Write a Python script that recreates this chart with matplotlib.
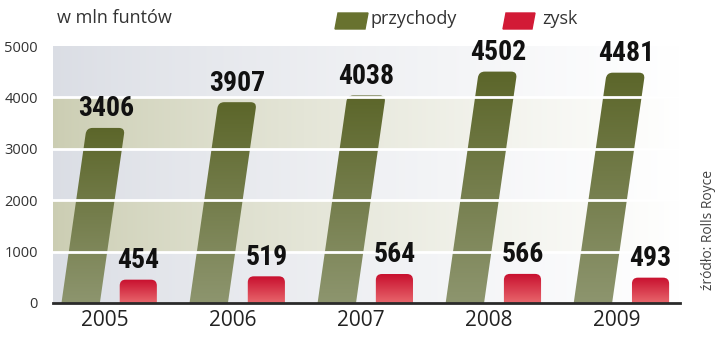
import numpy as np
import matplotlib
matplotlib.use('Agg')
import matplotlib.pyplot as plt
from matplotlib.path import Path
from matplotlib.patches import PathPatch
from matplotlib.colors import to_rgb

years = ['2005', '2006', '2007', '2008', '2009']
przychody = [3406, 3907, 4038, 4502, 4481]
zysk = [454, 519, 564, 566, 493]
yticks = [0, 1000, 2000, 3000, 4000, 5000]

W, H = 720, 355
fig = plt.figure(figsize=(W / 100, H / 100), dpi=100)
fig.patch.set_facecolor('white')
ax = fig.add_axes([53 / W, (H - 303) / H, 627 / W, 257 / H])
xmin, xmax = -0.406, 4.49
ax.set_xlim(xmin, xmax)
ax.set_ylim(0, 5000)

# background bands fading to white on the right
gray = np.array(to_rgb('#dadde4'))
beige = np.array(to_rgb('#cbcdb2'))
band_cols = [gray, beige, gray, beige, gray]
ncol = 627
t = np.linspace(0, 1, ncol) ** 0.8
bg = np.zeros((5, ncol, 3))
for i, c in enumerate(band_cols):
    bg[i] = c[None, :] * (1 - t[:, None]) + 1.0 * t[:, None]
ax.imshow(bg, extent=[xmin, xmax, 0, 5000], origin='lower', aspect='auto',
          interpolation='nearest', zorder=0)

px_x = 128.0          # pixels per category
px_y = 257.0 / 5000   # pixels per value unit
r_px = 6.0
rx = r_px / px_x
ry = r_px / px_y

num_font = dict(fontsize=20, fontweight='bold', fontstretch='condensed',
                family=['Roboto Condensed', 'DejaVu Sans'], color='#111111', zorder=5)


def bar_path(xc, hw, v, slant_px):
    # slant_px: horizontal pixels per vertical pixel
    s = slant_px * (v * px_y) / px_x
    k = slant_px * (ry * px_y) / px_x
    bl = (xc - hw, 0)
    br = (xc + hw, 0)
    tr = (xc + hw + s, v)
    tl = (xc - hw + s, v)
    verts = [bl, br, (tr[0] - k, v - ry), tr, (tr[0] - rx, v),
             (tl[0] + rx, v), tl, (tl[0] - k, v - ry), bl]
    codes = [Path.MOVETO, Path.LINETO, Path.LINETO, Path.CURVE3, Path.CURVE3,
             Path.LINETO, Path.CURVE3, Path.CURVE3, Path.CLOSEPOLY]
    return Path(verts, codes), s


def grad_bar(xc, hw, v, slant_px, top, bottom):
    path, s = bar_path(xc, hw, v, slant_px)
    patch = PathPatch(path, facecolor='none', edgecolor='none', zorder=2)
    ax.add_patch(patch)
    ct, cb = np.array(to_rgb(top)), np.array(to_rgb(bottom))
    g = np.linspace(0, 1, 100)[:, None]
    img = (cb * (1 - g) + ct * g)[:, None, :].repeat(2, axis=1)
    im = ax.imshow(img, extent=[xc - hw - 0.01, xc + hw + s + 0.01, 0, v],
                   origin='lower', aspect='auto', zorder=2)
    im.set_clip_path(patch)
    return s


x = np.arange(len(years))
for i in x:
    s = grad_bar(i - 0.19, 0.15, przychody[i], 0.143, '#5c662a', '#8d956e')
    ax.text(i - 0.19 + s, przychody[i] + 110, str(przychody[i]), ha='center',
            va='bottom', **num_font)
    grad_bar(i + 0.26, 0.145, zysk[i], 0.0, '#c80f2e', '#e8666c')
    ax.text(i + 0.26, zysk[i] + 110, str(zysk[i]), ha='center', va='bottom',
            **num_font)

for yv in yticks[1:-1]:
    ax.axhline(yv, color='white', lw=2, zorder=3)

for sp in ['top', 'right', 'left']:
    ax.spines[sp].set_visible(False)
ax.spines['bottom'].set_color('#2a2a2a')
ax.spines['bottom'].set_linewidth(2)
ax.spines['bottom'].set_zorder(4)

ax.set_xticks(x)
ax.set_xticklabels(years, fontsize=15, color='#222222', family='Open Sans')
ax.tick_params(axis='x', length=0, pad=5)
ax.set_yticks(yticks)
ax.set_yticklabels([str(v) for v in yticks], fontsize=10.5, color='#333333',
                   family='Open Sans')
ax.tick_params(axis='y', length=0, pad=11)

fig.text(57 / W, 1 - 18 / H, 'w mln funtów', fontsize=13, color='#333333',
         family='Open Sans', va='center', ha='left')

# legend
lax = fig.add_axes([0, 0, 1, 1], facecolor='none')
lax.set_xlim(0, W)
lax.set_ylim(H, 0)
lax.axis('off')
lax.add_patch(plt.Polygon([(335, 29), (365, 29), (368, 13), (338, 13)],
                          closed=True, color='#68722f'))
lax.add_patch(plt.Polygon([(503, 29), (532, 29), (535, 13), (506, 13)],
                          closed=True, color='#d21a36'))
lax.text(370, 19, 'przychody', fontsize=13, color='#333333', family='Open Sans',
         va='center', ha='left')
lax.text(542, 19, 'zysk', fontsize=13, color='#333333', family='Open Sans',
         va='center', ha='left')
lax.text(708, 230, 'źródło: Rolls Royce', fontsize=10, color='#444444',
         family='Open Sans', rotation=90, va='center', ha='center')

fig.savefig('out.png', dpi=100)
